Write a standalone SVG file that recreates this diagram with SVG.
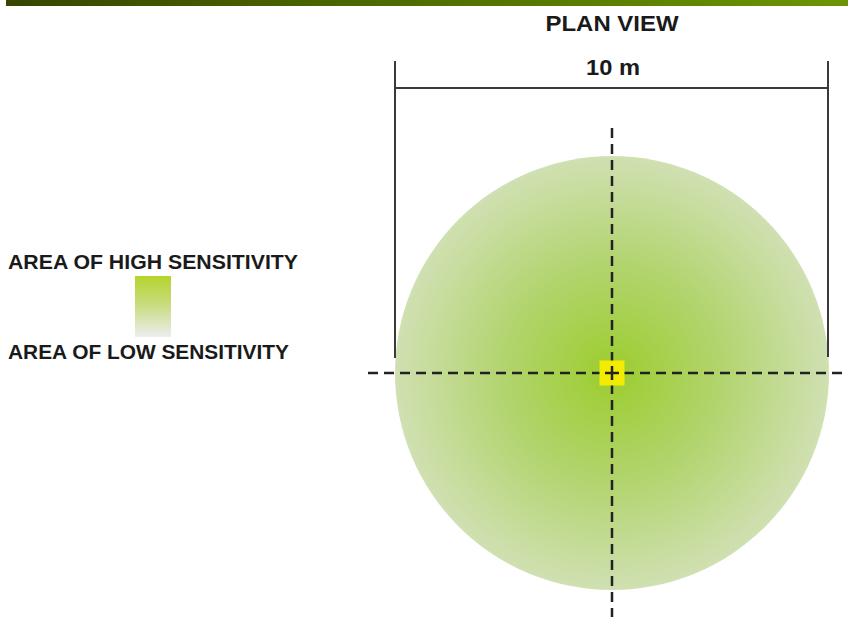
<svg xmlns="http://www.w3.org/2000/svg" width="848" height="617" viewBox="0 0 848 617">
<defs>
<linearGradient id="bar" x1="0" y1="0" x2="1" y2="0">
<stop offset="0" stop-color="#374600"/>
<stop offset="1" stop-color="#6b9600"/>
</linearGradient>
<radialGradient id="disc" cx="0.5" cy="0.5" r="0.5">
<stop offset="0" stop-color="#9ccd2e"/>
<stop offset="0.5" stop-color="#b2d46e"/>
<stop offset="1" stop-color="#d0e0b2"/>
</radialGradient>
<linearGradient id="leg" x1="0" y1="0" x2="0" y2="1">
<stop offset="0" stop-color="#b4d42c"/>
<stop offset="0.5" stop-color="#cadc84"/>
<stop offset="1" stop-color="#eceef0"/>
</linearGradient>
<style>
.t{font-family:"Liberation Sans",Arial,sans-serif;font-weight:bold;fill:#1a1a1a}
.dim{stroke:#3a3a3a;stroke-width:2;fill:none}
.dash{stroke:#222;stroke-width:2.5;fill:none;stroke-dasharray:10 6}
</style>
</defs>
<rect x="6" y="0" width="842" height="6" fill="url(#bar)"/>
<g id="circle"><circle cx="612" cy="373" r="217" fill="url(#disc)"/></g>
<g id="title"><text class="t" x="612" y="31" font-size="22" text-anchor="middle" textLength="133" lengthAdjust="spacingAndGlyphs">PLAN VIEW</text></g>
<g id="dimension">
<path class="dim" d="M395,61 V358 M828,61 V357 M395,88 H828"/>
<text class="t" x="613" y="75" font-size="22" text-anchor="middle" textLength="54" lengthAdjust="spacingAndGlyphs">10 m</text>
</g>
<g id="connectors">
<path class="dash" d="M612,128 V617"/>
<path class="dash" d="M368,373 H848"/>
</g>
<g id="center">
<rect x="599.5" y="360.5" width="25" height="25" fill="#f4ec00"/>
<path d="M612,366 V380 M605,373 H619" stroke="#222" stroke-width="2.5"/>
</g>
<g id="legend">
<text class="t" x="8" y="269" font-size="20" textLength="290" lengthAdjust="spacingAndGlyphs">AREA OF HIGH SENSITIVITY</text>
<rect x="135" y="276" width="36" height="61" fill="url(#leg)"/>
<text class="t" x="8" y="359" font-size="20" textLength="281" lengthAdjust="spacingAndGlyphs">AREA OF LOW SENSITIVITY</text>
</g>
</svg>
